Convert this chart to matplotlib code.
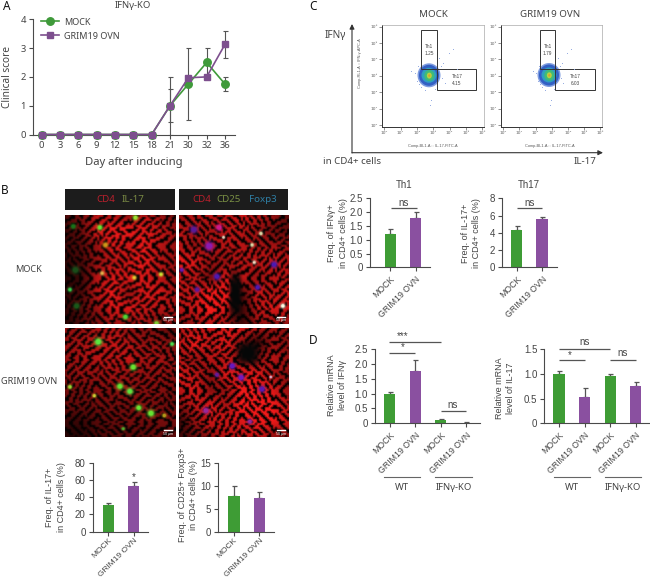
import numpy as np
import matplotlib
matplotlib.use('Agg')
import matplotlib.pyplot as plt
from matplotlib.patches import Ellipse, Rectangle

W, H = 650, 579
GREEN, PURPLE = '#3E9C35', '#8A50A0'
LINE_G, LINE_P = '#3F9A3A', '#7D4F8E'
AX = '#4a4a4a'; TXT = '#444444'
SANS = 'Liberation Sans'; LABEL = 'Noto Sans'

# ---- data ----
days = ['0', '3', '6', '9', '12', '15', '18', '21', '30', '32', '36']
mock_score = [0, 0, 0, 0, 0, 0, 0, 1, 1.75, 2.5, 1.75]
grim_score = [0, 0, 0, 0, 0, 0, 0, 1, 1.97, 2, 3.13]
mock_err = [0, 0, 0, 0, 0, 0, 0, 1, 1.25, 0.5, 0.25]
grim_err = [0, 0, 0, 0, 0, 0, 0, 0.58, 0, 0, 0.47]
two = ['MOCK', 'GRIM19 OVN']
four = ['MOCK', 'GRIM19 OVN', 'MOCK', 'GRIM19 OVN']
il17_freq, il17_err = [31, 53], [2, 5]
foxp3_freq, foxp3_err = [7.7, 7.4], [2.2, 1.3]
th1_freq, th1_err = [1.2, 1.8], [0.18, 0.2]
th17_freq, th17_err = [4.3, 5.55], [0.5, 0.25]
ifng_mrna, ifng_err = [1.0, 1.75, 0.1, 0.02], [0.04, 0.38, 0.03, 0.01]
il17_mrna, il17m_err = [1.0, 0.54, 0.95, 0.76], [0.06, 0.18, 0.04, 0.07]

fig = plt.figure(figsize=(W / 100, H / 100), dpi=100)

def axpx(x0, ytop, x1, ybot, **kw):
    return fig.add_axes([x0 / W, 1 - ybot / H, (x1 - x0) / W, (ybot - ytop) / H], **kw)

ov = fig.add_axes([0, 0, 1, 1], zorder=20)
ov.set_xlim(0, W); ov.set_ylim(H, 0); ov.axis('off'); ov.patch.set_alpha(0)

def label(x, y, s, size=7.0, family=LABEL, **kw):
    kw.setdefault('ha', 'center'); kw.setdefault('va', 'center'); kw.setdefault('color', TXT)
    ov.text(x, y, s, fontsize=size, family=family, **kw)

def style(ax, size=7.0):
    for s in ('top', 'right'):
        ax.spines[s].set_visible(False)
    for s in ('left', 'bottom'):
        ax.spines[s].set_color(AX); ax.spines[s].set_linewidth(0.8)
    ax.tick_params(colors=TXT, color=AX, labelsize=size, length=3, width=0.8, pad=2)
    ax.patch.set_alpha(0)

def bars(x0, x1, ytop, ybot, c0, step, vals, errs, cats, ymax, yticks, yticklabels, xsize=6.3, xpad=2):
    ax = axpx(x0, ytop, x1, ybot)
    ax.set_xlim(-(c0 - x0) / step, (x1 - c0) / step)
    ax.set_ylim(0, ymax)
    pos = np.arange(len(vals))
    cols = [GREEN, PURPLE] * (len(vals) // 2)
    ax.bar(pos, vals, width=11.3 / step, color=cols, zorder=2)
    ax.errorbar(pos, vals, yerr=[np.zeros(len(vals)), errs], fmt='none', ecolor='#555555',
                elinewidth=0.9, capsize=1.8, capthick=0.9, zorder=1)
    ax.set_xticks(pos)
    ax.set_xticklabels(cats, rotation=45, ha='right', rotation_mode='anchor', family=SANS)
    ax.set_yticks(yticks); ax.set_yticklabels(yticklabels, family=SANS)
    style(ax)
    for t in ax.get_yticklabels() + ax.get_xticklabels():
        t.set_fontfamily(SANS)
    ax.tick_params(axis='x', labelsize=xsize, pad=xpad)
    return ax

def sig(x0, x1, y, s, tx=None, ty=None, size=7):
    ov.plot([x0, x1], [y, y], color='#555555', lw=0.9, solid_capstyle='butt')
    label((x0 + x1) / 2 if tx is None else tx, y - 6 if ty is None else ty, s, size=size, family=SANS)

def ylab(x, y, s, size=6.5):
    label(x, y, s, size=size, family=SANS, rotation=90, linespacing=1.3, multialignment='center')

# ---- A ----
a = axpx(33, 19.3, 235, 134.5)
step = (225 - 41.7) / 10
a.set_xlim(-(41.7 - 33) / step, (235 - 41.7) / step); a.set_ylim(0, 4)
xa = np.arange(len(days))
a.errorbar(xa, mock_score, yerr=mock_err, fmt='none', ecolor='#555555', elinewidth=0.8, capsize=1.8, capthick=0.8, zorder=2)
a.errorbar(xa, grim_score, yerr=grim_err, fmt='none', ecolor='#555555', elinewidth=0.8, capsize=1.8, capthick=0.8, zorder=2)
a.plot(xa, mock_score, '-o', color=LINE_G, lw=1.2, ms=5.4, label='MOCK', clip_on=False, zorder=3)
a.plot(xa, grim_score, '-s', color=LINE_P, lw=1.2, ms=4.6, label='GRIM19 OVN', clip_on=False, zorder=4)
a.set_xticks(xa); a.set_xticklabels(days); a.set_yticks(range(5))
style(a, 6.8)
for t in a.get_xticklabels() + a.get_yticklabels():
    t.set_fontfamily(LABEL)
a.legend(loc='upper left', bbox_to_anchor=(0.0, 1.085), frameon=False,
         prop={'family': LABEL, 'size': 6.5}, handlelength=2.0, labelspacing=0.55,
         handletextpad=0.5, labelcolor=TXT)
label(133, 5.5, 'IFNγ-KO', 6.8)
label(134, 163, 'Day after inducing', 8.1)
label(7.5, 77, 'Clinical score', 7.3, rotation=90)

# ---- B images ----
TILE = ["1110011001110011", "1100011101100111", "0001110111000110", "0111110011011100",
        "1110001011111001", "1000111000110011", "0011111101100111", "1110010111001110",
        "1100110011011000", "0011100111110011", "0111101100111011", "1100111001100110",
        "1001100011001100", "0111011110011101", "1110001100111001", "1001110111100011"]
TILE_A = np.array([[int(c) for c in r] for r in TILE], float)
# orientation of each repeated block of the cell-mesh texture
BLOCKS = [[0, 5, 2, 7], [3, 1, 6, 4], [5, 2, 0, 1], [7, 4, 3, 6]]

RED = [
 [[.35,.5,.7,.7,.6,.75,.6,.5],[.3,.45,.8,.85,.85,.8,.75,.6],[.3,.4,.6,.8,.75,.85,.7,.6],[.25,.35,.6,.7,.75,.85,.7,.6],
  [.2,.3,.7,.8,.8,.8,.7,.6],[.25,.35,.7,.85,.6,.8,.8,.6],[.25,.4,.6,.8,.8,.75,.7,.65],[.2,.35,.5,.65,.6,.65,.5,.6]],
 [[.6,.7,.7,.7,.75,.7,.6,.4],[.7,.65,.65,.7,.7,.6,.5,.45],[.7,.6,.7,.7,.7,.65,.65,.6],[.85,.8,.6,.6,.7,.7,.75,.7],
  [.75,.7,.5,.8,.75,.6,.7,.7],[.7,.75,.9,.85,.4,.75,.7,.75],[.7,.75,.9,.8,.3,.7,.8,.75],[.55,.6,.7,.6,.3,.6,.6,.6]],
 [[.6,.6,.65,.7,.6,.55,.5,.4],[.6,.65,.7,.75,.7,.6,.6,.5],[.6,.65,.7,.7,.75,.65,.65,.6],[.55,.6,.6,.65,.6,.6,.6,.55],
  [.5,.5,.55,.55,.6,.55,.55,.5],[.45,.45,.5,.5,.5,.55,.5,.45],[.3,.3,.4,.45,.5,.5,.5,.5],[.2,.2,.35,.4,.4,.4,.45,.4]],
 [[.7,.7,.75,.8,.8,.7,.6,.6],[.7,.85,.7,.8,.6,.25,.6,.55],[.7,.6,.7,.7,.7,.6,.7,.6],[.8,.7,.55,.8,.8,.8,.65,.55],
  [.7,.8,.55,.6,.85,.85,.8,.6],[.55,.7,.8,.65,.85,.9,.85,.7],[.3,.6,.75,.75,.8,.85,.85,.75],[.3,.45,.6,.7,.7,.75,.6,.55]],
]
SPOTS = [
 [(.31,.11,2.5,.4,.9,.2),(.63,.02,2.5,.6,.9,.2),(.04,.68,2,.2,.8,.3),(.54,.93,2.5,.3,.85,.2),(.36,.27,2.5,.8,.6,.1),(.86,.54,2,.8,.9,.2),
  (.62,.57,2,.9,.8,.2),(.33,.53,2,.9,.7,.3),(.07,.1,2.5,.1,.45,.1),(.82,.99,2.5,.5,.8,.2),(.09,.5,3.5,.1,.3,.1),(.1,.83,3,.1,.35,.1)],
 [(.13,.13,3.5,.35,.1,.6),(.36,.11,3,.8,.1,.55),(.27,.28,4,.55,.1,.7),(.86,.45,3,.3,.1,.7),(.34,.56,3,.3,.1,.7),(.71,.66,2.5,.3,.1,.7),
  (.16,.68,2.5,.35,.1,.6),(.02,.5,2,.4,.1,.7),(.74,.165,1.8,.85,.85,.65),(.66,.27,1.8,.85,.85,.65),(.68,.43,1.7,.95,.85,.75),(.94,.83,2.2,1,1,.9),(.40,.2,1.4,.85,.85,.75)],
 [(.295,.13,3.5,.35,.9,.25),(.61,.36,3,.4,.9,.2),(.49,.535,3,.4,.9,.2),(.58,.58,3,.35,.9,.25),(.77,.78,3.2,.4,.9,.2),(.66,.73,2.7,.4,.9,.2),
  (.96,.15,2,.3,.85,.3),(.04,.54,2,.6,.85,.2),(.26,.62,1.8,.8,.8,.2),(.89,.8,2,.7,.6,.1),(.52,.92,1.6,.3,.7,.2)],
 [(.48,.35,3,.4,.1,.75),(.56,.455,3,.45,.1,.75),(.75,.56,3,.35,.1,.7),(.24,.755,3,.6,.15,.6),(.64,.855,2.4,.55,.15,.6),(.34,.43,2.2,.4,.1,.6),(.83,.45,1.3,.85,.65,.75)],
]
DARK = [[], [(.51,.72,6,22)], [], [(.62,.235,11,11)]]
PANELS = [(65, 214.7, 175, 323.7), (178.7, 214.7, 288, 323.7), (65, 327.7, 175, 437), (178.7, 327.7, 288, 437)]

def upsample(arr, n):
    src = np.linspace(0, 1, arr.shape[0])
    dst = np.linspace(0, 1, n)
    rows = np.array([np.interp(dst, src, r) for r in arr])
    return np.array([np.interp(dst, src, c) for c in rows.T]).T

def soften(a):
    return (a + np.roll(a, 1, 0) + np.roll(a, -1, 0) + np.roll(a, 1, 1) + np.roll(a, -1, 1)) / 5

def orient(t, o):
    t = np.rot90(t, o % 4)
    return np.fliplr(t) if o >= 4 else t

def mesh(i, n):
    base = np.kron(TILE_A, np.ones((2, 2)))
    rows = [np.hstack([orient(base, (BLOCKS[r][c] + i) % 8) for c in range(4)]) for r in range(4)]
    return np.vstack(rows)[:n, :n]

for i, (x0, y0, x1, y1) in enumerate(PANELS):
    n = 110
    coarse = upsample(np.array(RED[i]), n)
    tile = soften(mesh(i, n))
    base = np.clip(coarse ** 1.4 * 1.25, 0, 1)
    img = np.zeros((n, n, 3))
    img[..., 0] = tile * base * 0.92 + 0.02
    img[..., 1] = tile * base * 0.1
    img[..., 2] = tile * base * 0.1
    yy, xx = np.mgrid[0:n, 0:n]
    for (fx, fy, ww, hh) in DARK[i]:
        g = np.exp(-((xx - fx * n) / ww) ** 4 - ((yy - fy * n) / hh) ** 4)[..., None]
        img = img * (1 - g) + np.array([.02, .03, .03]) * g
    for (fx, fy, r, cr, cg, cb) in SPOTS[i]:
        g = np.clip(1.4 * np.exp(-(((xx - fx * n) ** 2 + (yy - fy * n) ** 2) / (r * r))), 0, 1)[..., None]
        img = img * (1 - g) + np.array([cr, cg, cb]) * g
    ax = axpx(x0, y0, x1, y1)
    ax.imshow(img, interpolation='bilinear', aspect='auto')
    ax.axis('off')
    ov.plot([x1 - 11, x1 - 3], [y1 - 7, y1 - 7], color='white', lw=1)
    label(x1 - 7, y1 - 3.5, '50 μm', 2.6, family=SANS, color='white')

for (x0, x1) in [(65, 175), (178.7, 288)]:
    ov.add_patch(Rectangle((x0, 189), x1 - x0, 21, fc='#1c1c1c', ec='none'))
label(106, 199.5, 'CD4', 7.0, color='#b8202c')
label(133, 199.5, 'IL-17', 7.0, color='#7a8a44')
label(201.5, 199.5, 'CD4', 7.0, color='#b8202c')
label(229, 199.5, 'CD25', 7.0, color='#7a9044')
label(263, 199.5, 'Foxp3', 7.0, color='#2f7fa5')
label(29, 269, 'MOCK', 6.6)
label(29.5, 382, 'GRIM19 OVN', 6.6)

bars(92.7, 148.3, 462.7, 531.7, 108.3, 25.4, il17_freq, il17_err, two, 80, [0, 20, 40, 60, 80], ['0', '20', '40', '60', '80'], xsize=6.0, xpad=1)
bars(218.3, 274, 462.7, 531.7, 234, 25.4, foxp3_freq, foxp3_err, two, 15, [0, 5, 10, 15], ['0', '5', '10', '15'], xsize=6.0, xpad=1)
label(133.7, 477, '*', 7, family=SANS)
ylab(55.5, 497, 'Freq. of IL-17+\nin CD4+ cells (%)')
ylab(188, 495, 'Freq. of CD25+ Foxp3+\nin CD4+ cells (%)')

# ---- C flow ----
FLOW = [
 dict(x0=381.7, x1=484, cx=429, cy=75.3, th1=(421, 436.7), th17=(436.7, 476), t1='Th1\n1.25', t17='Th17\n4.15', xl='Comp-BL1-A :: IL-17-FITC-A', tx=433),
 dict(x0=500.7, x1=602, cx=549, cy=75, th1=(540, 555.3), th17=(555.3, 594.7), t1='Th1\n1.79', t17='Th17\n6.03', xl='Comp-BL1-A :: IL-17-FITC-A', tx=550),
]
DECADES = ['10⁰', '10¹', '10²', '10³', '10⁴', '10⁵', '10⁶']
STRAY = [(-14, -2), (-12, 6), (14, -12), (20, -22), (24, -26), (2, 25), (1, 30), (-8, 12), (16, 8), (-18, -4), (10, -17), (28, -6),
         (-10, 9), (13, 3), (-11, -9), (6, 14), (-4, 15), (12, -9)]
for k, f in enumerate(FLOW):
    ax = axpx(f['x0'], 25, f['x1'], 126.7)
    ax.set_xlim(-0.15, 6.1); ax.set_ylim(-0.1, 6.1)
    ax.set_xticks(range(7)); ax.set_xticklabels(DECADES)
    ax.set_yticks(range(7)); ax.set_yticklabels(DECADES)
    ax.tick_params(labelsize=3.2, length=2, width=0.5, colors='#666666', pad=1)
    for s in ax.spines.values():
        s.set_linewidth(0.5); s.set_color('#aaaaaa')
    ax.spines['left'].set_color('#333333'); ax.spines['bottom'].set_color('#333333')
    ax.spines['left'].set_linewidth(0.7); ax.spines['bottom'].set_linewidth(0.7)
    cx, cy = f['cx'], f['cy']
    for dx, dy in STRAY:
        ov.plot(cx + dx * (1 if k == 0 else 0.9), cy + dy, '.', ms=1.4, color='#90a8e0', mew=0)
    for (w, h, c, off) in [(23, 24, '#7f9ce0', 0), (20, 21, '#3360c4', 0), (15, 15, '#2f9fc0', 0), (10, 11, '#3fbb78', 1), (5, 6, '#b8d040', 1), (2, 2.5, '#e09a30', 1)]:
        ov.add_patch(Ellipse((cx + off * 0.3, cy + off * 0.3), w, h, fc=c, ec='none'))
    for (a0, a1), (b0, b1) in [(f['th1'], (30, 69)), (f['th17'], (69, 90.3))]:
        ov.add_patch(Rectangle((a0, b0), a1 - a0, b1 - b0, fc='none', ec='#333333', lw=0.7))
    label(sum(f['th1']) / 2, 50, f['t1'], 3.4, family=SANS, linespacing=1.5)
    label(sum(f['th17']) / 2 + 0.5, 80, f['t17'], 3.4, family=SANS, linespacing=1.5)
    label(f['tx'], 145.5, f['xl'], 2.8, family=SANS, color='#555555')
label(360, 63, 'Comp-RL1-A :: IFN-γ-APC-A', 2.8, family=SANS, rotation=90, color='#555555')
label(433, 14.5, 'MOCK', 7.0)
label(550.5, 14.5, 'GRIM19 OVN', 7.0)
ov.annotate('', xy=(352, 24), xytext=(352, 153), arrowprops=dict(arrowstyle='-|>', color='#333333', lw=0.8, mutation_scale=7, shrinkA=0, shrinkB=0))
ov.annotate('', xy=(603, 152.7), xytext=(352, 152.7), arrowprops=dict(arrowstyle='-|>', color='#333333', lw=0.8, mutation_scale=7, shrinkA=0, shrinkB=0))
label(335, 36, 'IFNγ', 7.2)
label(352, 162, 'in CD4+ cells', 7.0)
label(585, 162, 'IL-17', 7.0)

bars(369.5, 430, 198.3, 267.3, 390.3, 25.4, th1_freq, th1_err, two, 2.5, [0, .5, 1, 1.5, 2, 2.5], ['0', '0.5', '1.0', '1.5', '2.0', '2.5'])
bars(502, 556.7, 198.3, 267.3, 516.7, 25.4, th17_freq, th17_err, two, 8, [0, 2, 4, 6, 8], ['0', '2', '4', '6', '8'])
label(404, 185, 'Th1', 7.0, family=SANS)
label(529, 185, 'Th17', 7.0, family=SANS)
sig(391, 416.7, 208.3, 'ns', ty=203)
sig(517, 542.3, 208.3, 'ns', ty=203)
ylab(337.5, 233, 'Freq. of IFNγ+\nin CD4+ cells (%)')
ylab(471, 233, 'Freq. of IL-17+\nin CD4+ cells (%)')

# ---- D ----
bars(375, 480, 349, 423.3, 389.6, 25.6, ifng_mrna, ifng_err, four, 2.5, [0, .5, 1, 1.5, 2, 2.5], ['0', '0.5', '1.0', '1.5', '2.0', '2.5'])
bars(544.3, 649, 349, 423.3, 559, 25.6, il17_mrna, il17m_err, four, 1.5, [0, .5, 1, 1.5], ['0', '0.5', '1.0', '1.5'])
sig(389.3, 440.7, 341.7, '***', tx=402.3, ty=336.5)
sig(389.3, 415, 352.7, '*', tx=402.3, ty=347.5)
sig(440.7, 466, 411.3, 'ns', tx=453, ty=404.5)
sig(559, 610, 349, 'ns', tx=584.3, ty=342)
sig(559, 584.7, 360, '*', tx=570, ty=355)
sig(610, 635.7, 360, 'ns', tx=622.7, ty=353)
ylab(336.7, 385, 'Relative mRNA\nlevel of IFNγ')
ylab(505, 388, 'Relative mRNA\nlevel of IL-17')
for (x0, x1, xt, s) in [(384, 420.3, 402.3, 'WT'), (435.3, 471.7, 453.3, 'IFNγ-KO'), (553.7, 590, 571.7, 'WT'), (604.7, 640.7, 622.7, 'IFNγ-KO')]:
    ov.plot([x0, x1], [477.3, 477.3], color='#666666', lw=0.8)
    label(xt, 487.5, s, 6.8)

for (x, y, s) in [(7, 6, 'A'), (5, 190, 'B'), (313, 6, 'C'), (313, 341, 'D')]:
    label(x, y, s, 8.5, family=LABEL, weight='bold', color='#111111')

fig.savefig('out.png', dpi=100)
